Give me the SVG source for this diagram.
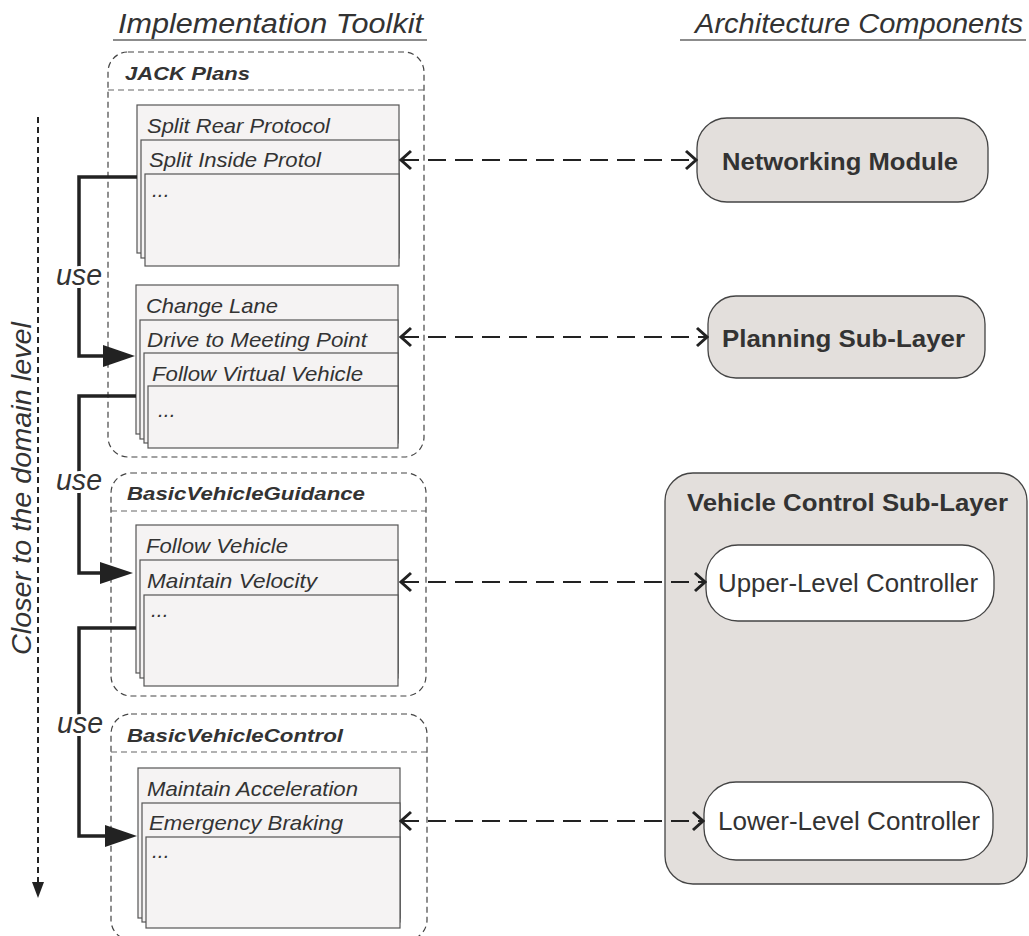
<svg xmlns="http://www.w3.org/2000/svg" width="1029" height="936" viewBox="0 0 1029 936">
<style>
text{font-family:"Liberation Sans",Arial,sans-serif;fill:#333}
.ttl{font-size:27px;font-style:italic}
.sec{font-size:19px;font-weight:bold;font-style:italic}
.pl{font-size:21px;font-style:italic}
.arch{font-size:24px;font-weight:bold}
.ctl{font-size:26px}
.use{font-size:30px;font-style:italic;stroke:#fff;stroke-width:6px;paint-order:stroke;stroke-linejoin:round}
.grp{fill:none;stroke:#444;stroke-width:1.2;stroke-dasharray:6 4}
.hdr{stroke:#666;stroke-width:1.2;stroke-dasharray:6 4}
.plan{fill:#f5f3f3;stroke:#555;stroke-width:1.2}
.box{fill:#e3dfdc;stroke:#444;stroke-width:1.3}
.wbox{fill:#fff;stroke:#444;stroke-width:1.3}
.uline{stroke:#666;stroke-width:1.6}
.use-c{fill:none;stroke:#222;stroke-width:3.5;stroke-linejoin:miter}
.tri{fill:#222}
.bi{fill:none;stroke:#222;stroke-width:2;stroke-dasharray:18 9}
.chev{fill:none;stroke:#222;stroke-width:3;stroke-linejoin:miter}
</style>
<defs>
<marker id="chev" markerUnits="userSpaceOnUse" viewBox="0 0 14 22" refX="12" refY="11" markerWidth="14" markerHeight="22" orient="auto-start-reverse">
<path d="M2,2 L12,11 L2,20" class="chev"/>
</marker>
</defs>

<g id="titles">
<text class="ttl" x="118" y="33" textLength="305" lengthAdjust="spacingAndGlyphs">Implementation Toolkit</text>
<line class="uline" x1="113" y1="40" x2="427" y2="40"/>
<text class="ttl" x="695" y="33" textLength="328" lengthAdjust="spacingAndGlyphs">Architecture Components</text>
<line class="uline" x1="680" y1="40" x2="1026" y2="40"/>
</g>

<g id="closer">
<line x1="38" y1="117" x2="38" y2="884" stroke="#222" stroke-width="2" stroke-dasharray="6 4"/>
<polygon class="tri" points="38,898 32,882 44,882"/>
<text class="ttl" transform="translate(31,655) rotate(-90)" textLength="333" lengthAdjust="spacingAndGlyphs">Closer to the domain level</text>
</g>

<g id="jack-plans">
<rect class="grp" x="108" y="52" width="316" height="405" rx="20"/>
<line class="hdr" x1="108" y1="90" x2="424" y2="90"/>
<text class="sec" x="125" y="80" textLength="125" lengthAdjust="spacingAndGlyphs">JACK Plans</text>
</g>

<g id="stack-networking-plans">
<rect class="plan" x="137" y="105" width="262" height="148"/>
<rect class="plan" x="141" y="140" width="258" height="118"/>
<rect class="plan" x="145" y="174" width="254" height="92"/>
<text class="pl" x="147" y="133" textLength="183" lengthAdjust="spacingAndGlyphs">Split Rear Protocol</text>
<text class="pl" x="149" y="167" textLength="172" lengthAdjust="spacingAndGlyphs">Split Inside Protol</text>
<text class="pl" x="152" y="197">...</text>
</g>

<g id="stack-planning-plans">
<rect class="plan" x="136" y="285" width="262" height="149"/>
<rect class="plan" x="140" y="320" width="258" height="119"/>
<rect class="plan" x="144" y="353" width="254" height="90"/>
<rect class="plan" x="148" y="386" width="250" height="62"/>
<text class="pl" x="146" y="313" textLength="132" lengthAdjust="spacingAndGlyphs">Change Lane</text>
<text class="pl" x="147" y="347" textLength="220" lengthAdjust="spacingAndGlyphs">Drive to Meeting Point</text>
<text class="pl" x="152" y="381" textLength="211" lengthAdjust="spacingAndGlyphs">Follow Virtual Vehicle</text>
<text class="pl" x="158" y="417">...</text>
</g>

<g id="basic-vehicle-guidance">
<rect class="grp" x="111" y="473" width="315" height="223" rx="20"/>
<line class="hdr" x1="111" y1="511" x2="426" y2="511"/>
<text class="sec" x="127" y="500" textLength="238" lengthAdjust="spacingAndGlyphs">BasicVehicleGuidance</text>
<rect class="plan" x="136" y="525" width="262" height="148"/>
<rect class="plan" x="140" y="560" width="258" height="118"/>
<rect class="plan" x="144" y="595" width="254" height="91"/>
<text class="pl" x="146" y="553" textLength="142" lengthAdjust="spacingAndGlyphs">Follow Vehicle</text>
<text class="pl" x="147" y="588" textLength="170" lengthAdjust="spacingAndGlyphs">Maintain Velocity</text>
<text class="pl" x="151" y="617">...</text>
</g>

<g id="basic-vehicle-control">
<rect class="grp" x="111" y="714" width="316" height="226" rx="20"/>
<line class="hdr" x1="111" y1="752" x2="427" y2="752"/>
<text class="sec" x="127" y="742" textLength="216" lengthAdjust="spacingAndGlyphs">BasicVehicleControl</text>
<rect class="plan" x="138" y="768" width="262" height="150"/>
<rect class="plan" x="142" y="803" width="258" height="119"/>
<rect class="plan" x="146" y="837" width="254" height="91"/>
<text class="pl" x="147" y="796" textLength="211" lengthAdjust="spacingAndGlyphs">Maintain Acceleration</text>
<text class="pl" x="149" y="830" textLength="194" lengthAdjust="spacingAndGlyphs">Emergency Braking</text>
<text class="pl" x="152" y="858">...</text>
</g>

<g id="networking-module">
<rect class="box" x="697" y="118" width="291" height="84" rx="30"/>
<text class="arch" x="722" y="170" textLength="236" lengthAdjust="spacingAndGlyphs">Networking Module</text>
</g>

<g id="planning-sub-layer">
<rect class="box" x="708" y="296" width="277" height="82" rx="28"/>
<text class="arch" x="722" y="347" textLength="243" lengthAdjust="spacingAndGlyphs">Planning Sub-Layer</text>
</g>

<g id="vehicle-control-sub-layer">
<rect class="box" x="665" y="473" width="362" height="411" rx="28"/>
<text class="arch" x="687" y="511" textLength="321" lengthAdjust="spacingAndGlyphs">Vehicle Control Sub-Layer</text>
</g>

<g id="upper-level-controller">
<rect class="wbox" x="706" y="545" width="288" height="76" rx="32"/>
<text class="ctl" x="718" y="592" textLength="260" lengthAdjust="spacingAndGlyphs">Upper-Level Controller</text>
</g>

<g id="lower-level-controller">
<rect class="wbox" x="704" y="782" width="289" height="78" rx="32"/>
<text class="ctl" x="718" y="830" textLength="262" lengthAdjust="spacingAndGlyphs">Lower-Level Controller</text>
</g>

<g id="connectors">
<path class="use-c" d="M137,177 H79 V356 H104"/>
<polygon class="tri" points="103,345 135,356 103,367"/>
<path class="use-c" d="M136,396 H79 V573 H101"/>
<polygon class="tri" points="100,562 133,573 100,584"/>
<path class="use-c" d="M136,628 H79 V836 H106"/>
<polygon class="tri" points="105,825 137,836 105,847"/>
<text class="use" x="56" y="285" textLength="46" lengthAdjust="spacingAndGlyphs">use</text>
<text class="use" x="56" y="490" textLength="46" lengthAdjust="spacingAndGlyphs">use</text>
<text class="use" x="57" y="733" textLength="46" lengthAdjust="spacingAndGlyphs">use</text>
<line class="bi" x1="401" y1="160" x2="696" y2="160" marker-start="url(#chev)" marker-end="url(#chev)"/>
<line class="bi" x1="401" y1="337" x2="707" y2="337" marker-start="url(#chev)" marker-end="url(#chev)"/>
<line class="bi" x1="401" y1="582" x2="705" y2="582" marker-start="url(#chev)" marker-end="url(#chev)"/>
<line class="bi" x1="401" y1="821" x2="703" y2="821" marker-start="url(#chev)" marker-end="url(#chev)"/>
</g>
</svg>
